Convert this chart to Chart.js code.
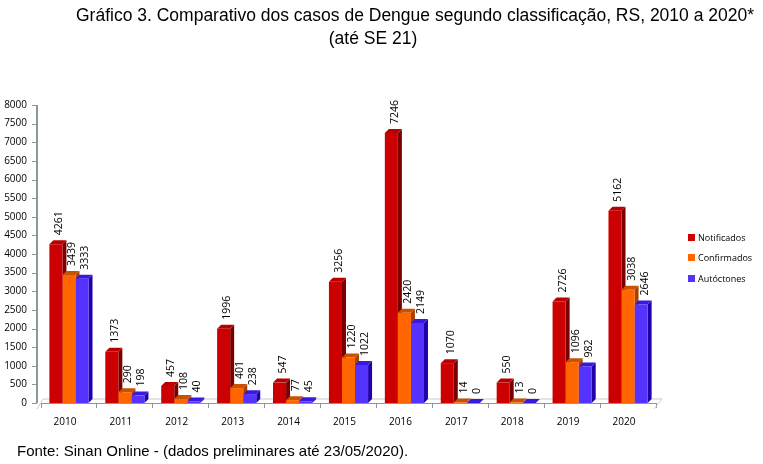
<!DOCTYPE html>
<html>
<head>
<meta charset="utf-8">
<script src="https://cdn.jsdelivr.net/npm/chart.js@4"></script>
<style>
    body { margin: 0; background: #fff; }
    .wrap { position: relative; width: 763px; height: 464px; overflow: hidden; }
    .title { position: absolute; top: 4px; white-space: nowrap; text-align: center;
        font: 17.5px 'Liberation Sans', Arial, sans-serif; line-height: 23px; color: #000; }
    .t1 { left: 415px; transform: translateX(-50%); }
    .t2 { left: 373px; top: 27px; transform: translateX(-50%); }
    .source { position: absolute; left: 17px; top: 442px;
        font: 15px 'Liberation Sans', Arial, sans-serif; color: #000; }
    .legend { position: absolute; left: 688px; top: 227px;
        font: 9px 'Open Sans', sans-serif; color: #000; }
    .legend div { height: 20.5px; display: flex; align-items: center; }
    .legend span { display: inline-block; width: 7px; height: 7px; margin-right: 3px; }
    canvas { position: absolute; left: 0; top: 0; }
</style>
</head>
<body>
<div class="wrap">
    <canvas id="myChart" width="763" height="464"></canvas>
    <div class="title t1">Gráfico 3. Comparativo dos casos de Dengue segundo classificação, RS, 2010 a 2020*</div>
    <div class="title t2">(até SE 21)</div>
    <div class="legend" id="legend"></div>
    <div class="source">Fonte: Sinan Online - (dados preliminares até 23/05/2020).</div>
</div>
<script>
const categories = ['2010', '2011', '2012', '2013', '2014', '2015', '2016', '2017', '2018', '2019', '2020']
const seriesNames = ['Notificados', 'Confirmados', 'Autóctones']
const notificados = [4261, 1373, 457, 1996, 547, 3256, 7246, 1070, 550, 2726, 5162]
const confirmados = [3439, 290, 108, 401, 77, 1220, 2420, 14, 13, 1096, 3038]
const autoctones = [3333, 198, 40, 238, 45, 1022, 2149, 0, 0, 982, 2646]

const frontColors = ['#cc0000', '#ff6600', '#5533ff']
const topColors = ['#b80000', '#c85200', '#3a18e0']
const sideColors = ['#7a0000', '#a84000', '#2400a8']
const dx = 4
const dy = 4
const axisColor = '#879a9a'

// side and top faces of each bar, plus floor and left axis
const depthPlugin = {
    id: 'depth',
    beforeDatasetsDraw(chart) {
        const ctx = chart.ctx
        const area = chart.chartArea
        const yScale = chart.scales.y
        const axisX = area.left - 4

        ctx.save()
        ctx.strokeStyle = '#c8cccc'
        ctx.lineWidth = 1
        ctx.beginPath()
        ctx.moveTo(axisX, area.bottom + 6)
        ctx.lineTo(axisX + dx + 2, area.bottom - dy)
        ctx.lineTo(area.right + dx + 2, area.bottom - dy)
        ctx.lineTo(area.right - 2, area.bottom + 6)
        ctx.stroke()

        ctx.strokeStyle = axisColor
        ctx.lineWidth = 2
        ctx.beginPath()
        ctx.moveTo(axisX, area.top)
        ctx.lineTo(axisX, area.bottom)
        ctx.stroke()
        ctx.lineWidth = 1
        yScale.ticks.forEach(t => {
            const py = Math.round(yScale.getPixelForValue(t.value)) + 0.5
            ctx.beginPath()
            ctx.moveTo(axisX - 5, py)
            ctx.lineTo(axisX, py)
            ctx.stroke()
        })

        chart.data.labels.forEach((_, i) => {
            chart.data.datasets.forEach((ds, d) => {
                const bar = chart.getDatasetMeta(d).data[i]
                const { x, y, base, width } = bar.getProps(['x', 'y', 'base', 'width'], true)
                const l = x - width / 2
                const r = x + width / 2
                ctx.fillStyle = sideColors[d]
                ctx.beginPath()
                ctx.moveTo(r, y)
                ctx.lineTo(r + dx, y - dy)
                ctx.lineTo(r + dx, base - dy)
                ctx.lineTo(r, base)
                ctx.closePath()
                ctx.fill()
                ctx.fillStyle = topColors[d]
                ctx.beginPath()
                ctx.moveTo(l, y)
                ctx.lineTo(l + dx, y - dy)
                ctx.lineTo(r + dx, y - dy)
                ctx.lineTo(r, y)
                ctx.closePath()
                ctx.fill()
            })
        })
        ctx.restore()
    },
    afterDatasetsDraw(chart) {
        const ctx = chart.ctx
        ctx.save()
        ctx.fillStyle = '#000'
        ctx.font = "10.5px 'Open Sans', sans-serif"
        ctx.textAlign = 'left'
        ctx.textBaseline = 'middle'
        chart.data.datasets.forEach((ds, d) => {
            chart.getDatasetMeta(d).data.forEach((bar, i) => {
                const { x, y } = bar.getProps(['x', 'y'], true)
                ctx.save()
                ctx.translate(x + 3.5, y - dy - 5)
                ctx.rotate(-Math.PI / 2)
                ctx.fillText(String(ds.data[i]), 0, 0)
                ctx.restore()
            })
        })
        ctx.restore()
    }
}

const allSeries = [notificados, confirmados, autoctones]

document.getElementById('legend').innerHTML = seriesNames
    .map((name, i) => `<div><span style="background:${frontColors[i]}"></span>${name}</div>`)
    .join('')

new Chart(document.getElementById('myChart'), {
    type: 'bar',
    data: {
        labels: categories,
        datasets: seriesNames.map((name, i) => ({
            label: name,
            data: allSeries[i],
            backgroundColor: frontColors[i],
            borderWidth: 0,
            barPercentage: 1,
            categoryPercentage: 0.7
        }))
    },
    options: {
        responsive: false,
        animation: false,
        layout: { padding: { top: 105, right: 107, left: 0, bottom: 0 } },
        plugins: {
            legend: { display: false },
            tooltip: { enabled: false }
        },
        scales: {
            x: {
                grid: { display: true, drawOnChartArea: false, drawTicks: true, tickLength: 5, color: axisColor },
                border: { display: true, color: axisColor, width: 1 },
                ticks: {
                    color: '#000',
                    font: { family: "'Open Sans', sans-serif", size: 10 },
                    padding: 8,
                    labelOffset: -4
                },
                afterFit(scale) { scale.height = 61 }
            },
            y: {
                min: 0,
                max: 8000,
                grid: { display: false, drawTicks: false },
                border: { display: false },
                ticks: {
                    stepSize: 500,
                    color: '#000',
                    font: { family: "'Open Sans', sans-serif", size: 10 },
                    padding: 14,
                    callback: value => String(value)
                },
                afterFit(scale) { scale.width = 41 }
            }
        }
    },
    plugins: [depthPlugin]
})
</script>
</body>
</html>
